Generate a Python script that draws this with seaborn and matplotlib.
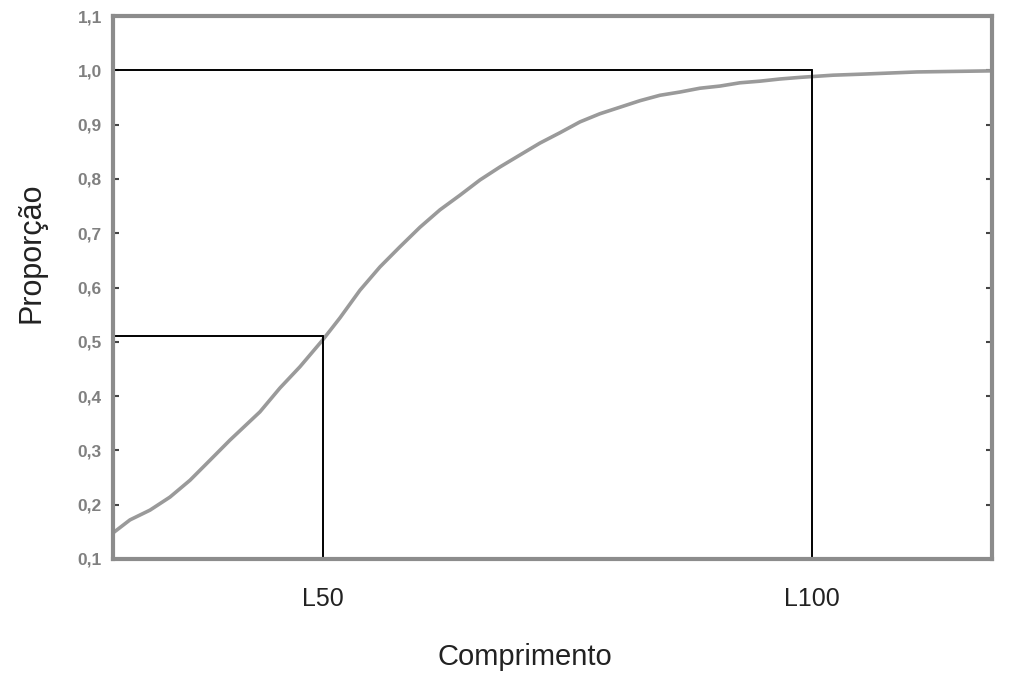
import numpy as np
import pandas as pd
import matplotlib
matplotlib.use("Agg")
import matplotlib.pyplot as plt
import seaborn as sns

# ==========================
# Data
# ==========================

comprimento = [0, 1.93, 4.21, 6.48, 8.76, 11.04, 13.31, 16.72, 19.00, 21.27,
               23.89, 25.82, 28.10, 30.38, 32.65, 34.93, 37.20, 39.48, 41.75, 44.03,
               46.30, 48.58, 50.85, 53.13, 55.40, 57.68, 59.95, 62.23, 64.51, 66.78,
               69.06, 71.33, 73.61, 75.88, 78.16, 81.91, 85.32, 91.47, 100]
proporcao = [0.148, 0.172, 0.190, 0.214, 0.245, 0.282, 0.319, 0.371, 0.415, 0.454,
             0.504, 0.544, 0.595, 0.638, 0.675, 0.711, 0.743, 0.770, 0.798, 0.822,
             0.844, 0.866, 0.885, 0.905, 0.920, 0.932, 0.944, 0.954, 0.960, 0.967,
             0.971, 0.977, 0.980, 0.984, 0.987, 0.991, 0.993, 0.997, 0.999]

l50_x = 23.9
l50_y = 0.51
l100_x = 79.5
l100_y = 1.0

xtick_pos = [l50_x, l100_x]
xtick_labels = ["L50", "L100"]
ytick_vals = [0.1, 0.2, 0.3, 0.4, 0.5, 0.6, 0.7, 0.8, 0.9, 1.0, 1.1]
ytick_labels = ["0,1", "0,2", "0,3", "0,4", "0,5", "0,6", "0,7", "0,8", "0,9", "1,0", "1,1"]

df = pd.DataFrame({"Comprimento": comprimento, "Proporção": proporcao})

# ==========================
# Style
# ==========================

sns.set_theme(style="white")
plt.rcParams["font.family"] = ["Liberation Sans", "DejaVu Sans"]

fig = plt.figure(figsize=(10.09, 6.73), dpi=100)
ax = fig.add_axes([0.112, 0.1694, 0.871, 0.8068])

# ==========================
# Curve + reference lines
# ==========================

sns.lineplot(data=df, x="Comprimento", y="Proporção", ax=ax,
             color="#9a9a9a", linewidth=2.6)

ax.plot([0, l50_x], [l50_y, l50_y], color="black", linewidth=1.4)
ax.plot([l50_x, l50_x], [0.1, l50_y], color="black", linewidth=1.4)
ax.plot([0, l100_x], [l100_y, l100_y], color="black", linewidth=1.4)
ax.plot([l100_x, l100_x], [0.1, l100_y], color="black", linewidth=1.4)

ax.set_xlim(0, 100)
ax.set_ylim(0.1, 1.1)

# ==========================
# Axes decoration
# ==========================

for side in ["left", "right", "top", "bottom"]:
    ax.spines[side].set_color("#8c8c8c")
    ax.spines[side].set_linewidth(3)

ax.set_yticks(ytick_vals)
ax.set_yticklabels(ytick_labels, fontsize=12.5, fontweight="bold", color="#808080")
ax.tick_params(axis="y", direction="in", length=4, width=1.5, color="#444444",
               left=True, right=True, pad=8)

ax.set_xticks(xtick_pos)
ax.set_xticklabels(xtick_labels, fontsize=18, color="#222222")
ax.tick_params(axis="x", length=0, pad=20)

ax.set_xlabel("Comprimento", fontsize=21, color="#222222")
ax.xaxis.set_label_coords(0.469, -0.154)
ax.set_ylabel("Proporção", fontsize=22, color="#222222")
ax.yaxis.set_label_coords(-0.076, 0.5635)

plt.savefig("out.png", dpi=100)
plt.close()
